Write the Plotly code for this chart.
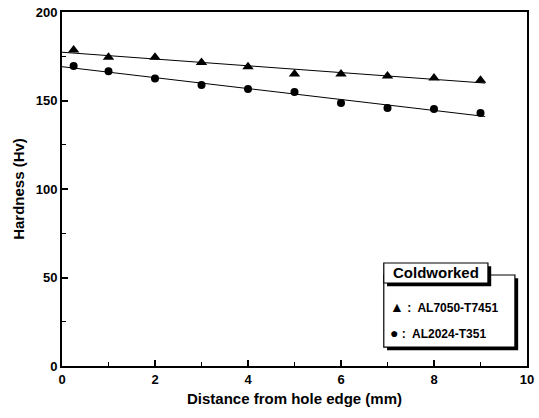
import numpy as np
import plotly.graph_objects as go

distance = [0.25, 1, 2, 3, 4, 5, 6, 7, 8, 9]
al7050 = [178.5, 174.5, 174.5, 171.5, 169, 165, 165, 163.8, 162.7, 161.5]
al2024 = [169.5, 166.5, 162.5, 158.8, 156.5, 154.8, 148.6, 145.8, 145.2, 143]
series_names = ["AL7050-T7451", "AL2024-T351"]
legend_title = "Coldworked"

FONT = "Liberation Sans"

fig = go.Figure()

# fitted trend lines
xfit = np.array([0.0, 9.1])
for vals in (al7050, al2024):
    m, b = np.polyfit(distance, vals, 1)
    fig.add_trace(go.Scatter(x=xfit, y=m * xfit + b, mode="lines",
                             line=dict(color="black", width=1),
                             showlegend=False, hoverinfo="skip"))

fig.add_trace(go.Scatter(x=distance, y=al7050, mode="markers", name=series_names[0],
                         marker=dict(symbol="triangle-up", size=10, color="black"),
                         showlegend=False))
fig.add_trace(go.Scatter(x=distance, y=al2024, mode="markers", name=series_names[1],
                         marker=dict(symbol="circle", size=8, color="black"),
                         showlegend=False))

# custom legend box (data coords)
bx0, bx1 = 6.92, 9.74
by0, by1 = 10.7, 51.4
hx0, hx1 = 6.92, 9.16
hy0, hy1 = 46.9, 58.2
dx, dy = 0.07, 1.8
shapes = [
    dict(type="rect", x0=bx0 + dx, x1=bx1 + dx, y0=by0 - dy, y1=by1 - dy,
         line=dict(width=0), fillcolor="black", layer="above"),
    dict(type="rect", x0=bx0, x1=bx1, y0=by0, y1=by1,
         line=dict(color="black", width=1.2), fillcolor="white", layer="above"),
    dict(type="rect", x0=hx0 + dx, x1=hx1 + dx, y0=hy0 - dy, y1=hy1 - dy,
         line=dict(width=0), fillcolor="black", layer="above"),
    dict(type="rect", x0=hx0, x1=hx1, y0=hy0, y1=hy1,
         line=dict(color="black", width=1.2), fillcolor="white", layer="above"),
]
fig.update_layout(shapes=shapes)

annotations = [
    dict(x=(hx0 + hx1) / 2, y=(hy0 + hy1) / 2, xref="x", yref="y", text="<b>" + legend_title + "</b>",
         showarrow=False, font=dict(family=FONT, size=15, color="black")),
    dict(x=7.0, y=33.3, xref="x", yref="y", xanchor="left",
         text="<b><span style='font-size:14px'>▲</span> :  " + series_names[0] + "</b>", showarrow=False,
         font=dict(family=FONT, size=12, color="black")),
    dict(x=7.0, y=18.5, xref="x", yref="y", xanchor="left",
         text="<b><span style='font-size:14px'>●</span> :  " + series_names[1] + "</b>", showarrow=False,
         font=dict(family=FONT, size=12, color="black")),
]
fig.update_layout(annotations=annotations)

fig.update_layout(
    width=539, height=418,
    margin=dict(l=62, r=12, t=12, b=52),
    paper_bgcolor="white", plot_bgcolor="white",
    font=dict(family=FONT, color="black"),
    xaxis=dict(range=[0, 10], tickvals=[0, 2, 4, 6, 8, 10],
               ticktext=["<b>0</b>", "<b>2</b>", "<b>4</b>", "<b>6</b>", "<b>8</b>", "<b>10</b>"],
               ticks="inside", ticklen=6, tickwidth=1.5, tickcolor="black",
               minor=dict(dtick=1, ticks="inside", ticklen=4, tickcolor="black", tickwidth=1.2),
               showgrid=False, zeroline=False, automargin=False,
               showline=True, linecolor="black", linewidth=2, mirror=True,
               tickfont=dict(family=FONT, size=13),
               title=dict(text="<b>Distance from hole edge (mm)</b>", font=dict(family=FONT, size=15), standoff=8)),
    yaxis=dict(range=[0, 200], tickvals=[0, 50, 100, 150, 200],
               ticktext=["<b>0</b>", "<b>50</b>", "<b>100</b>", "<b>150</b>", "<b>200</b>"],
               ticks="inside", ticklen=6, tickwidth=1.5, tickcolor="black",
               minor=dict(dtick=25, ticks="inside", ticklen=4, tickcolor="black", tickwidth=1.2),
               showgrid=False, zeroline=False, automargin=False,
               showline=True, linecolor="black", linewidth=2, mirror=True,
               tickfont=dict(family=FONT, size=13),
               title=dict(text="<b>Hardness (Hv)</b>", font=dict(family=FONT, size=15), standoff=7)),
)

fig.write_html("out.html", config={"displayModeBar": False},
               post_script="document.body.style.margin='0';document.body.style.overflow='hidden';")
